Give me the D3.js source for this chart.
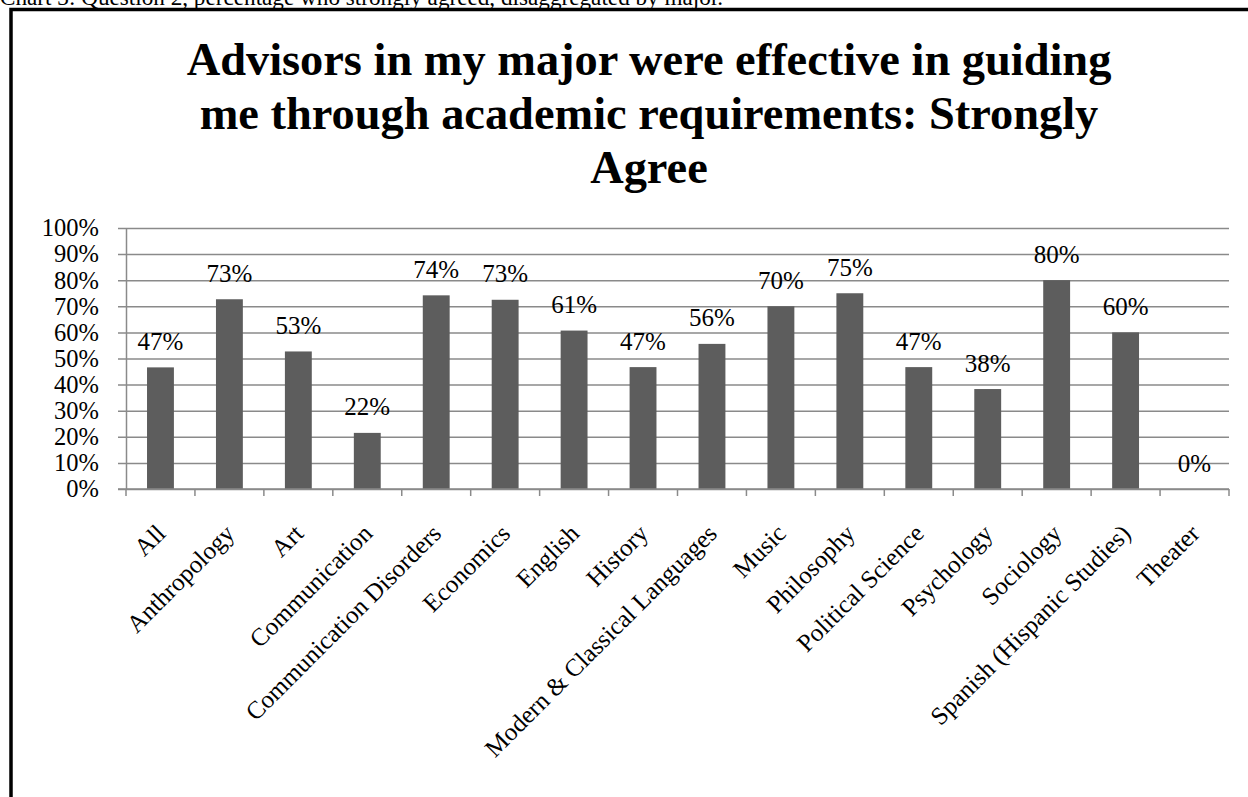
<!DOCTYPE html>
<html><head><meta charset="utf-8">
<script src="https://cdn.jsdelivr.net/npm/d3@7"></script>
<style>
html,body{margin:0;padding:0;background:#fff;overflow:hidden;}
svg{display:block;font-family:"Liberation Serif","Times New Roman",serif;}
</style></head>
<body>
<svg id="chart" width="1248" height="797"></svg>
<script>
const caption = "Chart 3: Question 2, percentage who strongly agreed, disaggregated by major.";
const titleLines = ["Advisors in my major were effective in guiding", "me through academic requirements: Strongly", "Agree"];
const categories = ["All","Anthropology","Art","Communication","Communication Disorders","Economics","English","History","Modern & Classical Languages","Music","Philosophy","Political Science","Psychology","Sociology","Spanish (Hispanic Studies)","Theater"];
const values = [0.466,0.727,0.527,0.215,0.742,0.725,0.607,0.467,0.556,0.70,0.75,0.467,0.383,0.80,0.60,0.0];
const yTicks = [0,0.1,0.2,0.3,0.4,0.5,0.6,0.7,0.8,0.9,1.0];

const svg = d3.select("#chart");
const margin = {left:126, right:1229, top:228, bottom:489};

// frame
svg.append("rect").attr("x",11).attr("y",9.5).attr("width",1300).attr("height",900)
  .attr("fill","none").attr("stroke","#000").attr("stroke-width",3.5);

// caption (partly cut)
svg.append("text").attr("x",0).attr("y",5).attr("font-size",23.2).attr("fill","#000").text(caption);

// title
svg.append("g").selectAll("text").data(titleLines).join("text")
  .attr("x",649).attr("y",(d,i)=>75+i*54).attr("text-anchor","middle")
  .attr("font-size",46.4).attr("font-weight","bold").attr("fill","#000").text(d=>d);

const x = d3.scaleBand().domain(categories).range([margin.left, margin.right]).paddingInner(0.61).paddingOuter(0.305);
const xb = d3.scaleBand().domain(categories).range([margin.left, margin.right]);
const y = d3.scaleLinear().domain([0,1]).range([margin.bottom, margin.top]);

// gridlines + y axis
const yAxis = d3.axisLeft(y).tickValues(yTicks).tickFormat(d3.format(".0%"))
  .tickSize(-(margin.right-margin.left)).tickSizeOuter(0).tickPadding(27);
const gy = svg.append("g").attr("transform",`translate(${margin.left},0)`).call(yAxis);
gy.select(".domain").attr("stroke","#8a8a8a").attr("stroke-width",1.5);
gy.selectAll(".tick line").attr("stroke","#8a8a8a").attr("stroke-width",1.5).attr("x1",-8);
gy.selectAll(".tick text").attr("font-size",24.5).attr("font-family","Liberation Serif").attr("fill","#000");

// bars
svg.append("g").selectAll("rect").data(categories).join("rect")
  .attr("x",d=>x(d)).attr("width",x.bandwidth())
  .attr("y",(d,i)=>y(values[i])).attr("height",(d,i)=>y(0)-y(values[i]))
  .attr("fill","#5d5d5d");

// x axis line + ticks at boundaries
const boundaries = categories.map(c=>xb(c)).concat([margin.right]);
const gx = svg.append("g");
gx.append("line").attr("x1",margin.left-8).attr("x2",margin.right).attr("y1",y(0)).attr("y2",y(0))
  .attr("stroke","#8a8a8a").attr("stroke-width",1.5);
gx.selectAll("line.t").data(boundaries).join("line").attr("class","t")
  .attr("x1",d=>d).attr("x2",d=>d).attr("y1",y(0)).attr("y2",y(0)+7)
  .attr("stroke","#8a8a8a").attr("stroke-width",1.5);

// category labels
svg.append("g").selectAll("text").data(categories).join("text")
  .attr("transform",d=>`translate(${xb(d)+xb.bandwidth()/2+6.5},${y(0)+46}) rotate(-45)`)
  .attr("text-anchor","end").attr("font-size",25).attr("fill","#000").text(d=>d);

// data labels
svg.append("g").selectAll("text").data(categories).join("text")
  .attr("x",d=>xb(d)+xb.bandwidth()/2).attr("y",(d,i)=>y(values[i])-17.5)
  .attr("text-anchor","middle").attr("font-size",25).attr("fill","#000")
  .text((d,i)=>d3.format(".0%")(values[i]));
</script>
</body></html>
